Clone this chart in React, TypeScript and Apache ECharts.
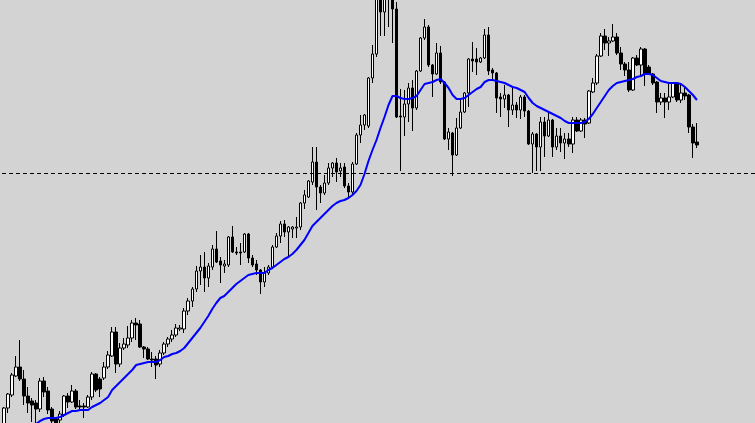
import React, { useEffect, useRef } from "react";
import * as echarts from "echarts";

const opens = [
  -2, 15, 28, 47, 56, 44, 27, 22, 20, 14,
  42, 32, 14, 4, 3, 8, 27, 21, 32, 17,
  17, 16, 26, 49, 44, 45, 56, 67, 91, 59,
  75, 78, 85, 100, 99, 76, 74, 64, 64, 59,
  70, 79, 84, 88, 94, 94, 112, 122, 134, 152,
  156, 145, 156, 174, 162, 157, 158, 186, 171, 171,
  171, 189, 165, 159, 153, 141, 150, 156, 176, 187,
  199, 191, 194, 195, 196, 220, 226, 241, 261, 236,
  230, 240, 255, 260, 252, 256, 237, 231, 259, 288,
  298, 297, 345, 369, 428, 411, 443, 433, 414, 307,
  306, 319, 335, 315, 352, 385, 396, 358, 349, 370,
  341, 284, 290, 268, 295, 311, 330, 364, 364, 361,
  365, 388, 353, 350, 326, 324, 328, 313, 318, 313,
  326, 312, 279, 289, 276, 301, 287, 303, 276, 287,
  280, 284, 279, 303, 292, 303, 300, 331, 340, 367,
  387, 380, 382, 386, 370, 359, 353, 333, 365, 358,
  374, 356, 349, 341, 321, 325, 321, 326, 340, 323,
  330, 328, 296, 281,
];

const closes = [
  15, 29, 48, 56, 44, 27, 20, 18, 14, 42,
  31, 13, 2, -1, 9, 27, 21, 32, 16, 16,
  16, 26, 49, 33, 34, 56, 68, 91, 59, 75,
  79, 85, 100, 98, 76, 74, 64, 63, 58, 70,
  79, 84, 88, 95, 95, 112, 122, 134, 152, 156,
  145, 157, 174, 161, 158, 159, 186, 171, 170, 170,
  189, 165, 158, 153, 141, 150, 156, 176, 187, 199,
  191, 196, 196, 196, 220, 228, 242, 261, 236, 230,
  240, 255, 260, 251, 255, 237, 231, 259, 288, 298,
  308, 345, 369, 428, 411, 431, 428, 414, 306, 306,
  319, 335, 315, 352, 385, 396, 358, 349, 370, 341,
  284, 291, 268, 295, 311, 330, 364, 362, 361, 365,
  388, 352, 350, 325, 324, 328, 313, 318, 313, 326,
  312, 279, 289, 276, 301, 287, 303, 276, 287, 280,
  284, 279, 303, 292, 303, 299, 332, 340, 367, 387,
  380, 382, 386, 370, 359, 353, 333, 365, 358, 374,
  349, 349, 340, 321, 325, 321, 326, 340, 323, 330,
  327, 296, 280, 278,
];

const lows = [
  -5, 10, 26, 46, 42, 18, 10, 1, -1, 11,
  26, 9, -1, -5, -2, 6, 15, 20, 14, 14,
  5, 15, 23, 31, 26, 43, 54, 66, 50, 56,
  73, 75, 81, 83, 75, 65, 63, 56, 44, 56,
  68, 76, 81, 86, 92, 90, 108, 116, 131, 138,
  131, 136, 153, 160, 140, 150, 156, 170, 168, 158,
  170, 160, 156, 148, 129, 136, 148, 155, 175, 180,
  186, 165, 185, 185, 193, 214, 225, 238, 213, 220,
  228, 238, 246, 241, 246, 235, 225, 229, 258, 280,
  293, 295, 340, 366, 387, 387, 396, 380, 305, 252,
  287, 301, 292, 313, 351, 383, 356, 326, 348, 339,
  283, 273, 247, 267, 294, 310, 316, 351, 348, 360,
  364, 348, 343, 310, 306, 315, 296, 308, 305, 304,
  306, 278, 250, 252, 252, 266, 286, 266, 273, 271,
  264, 276, 270, 291, 291, 285, 299, 330, 338, 366,
  373, 367, 381, 368, 353, 347, 331, 332, 357, 347,
  337, 348, 338, 310, 318, 305, 313, 325, 321, 320,
  323, 290, 265, 275,
];

const highs = [
  16, 30, 50, 67, 83, 53, 36, 25, 23, 45,
  46, 36, 16, 6, 12, 28, 30, 38, 34, 23,
  20, 28, 51, 50, 46, 61, 72, 96, 96, 80,
  85, 97, 103, 105, 103, 77, 76, 71, 67, 73,
  81, 86, 93, 99, 98, 115, 125, 136, 157, 168,
  171, 160, 178, 192, 166, 163, 187, 197, 176, 180,
  190, 190, 168, 163, 154, 156, 158, 178, 190, 202,
  203, 197, 197, 206, 221, 233, 243, 276, 276, 238,
  248, 260, 261, 265, 260, 260, 240, 261, 290, 308,
  309, 346, 378, 438, 438, 438, 453, 443, 421, 334,
  333, 340, 343, 353, 386, 404, 398, 359, 380, 377,
  342, 295, 291, 305, 323, 331, 365, 381, 375, 366,
  394, 396, 355, 351, 330, 338, 329, 335, 321, 328,
  328, 313, 291, 290, 306, 306, 310, 304, 295, 295,
  290, 290, 306, 306, 305, 305, 333, 345, 369, 390,
  394, 386, 399, 390, 376, 361, 361, 366, 368, 376,
  375, 358, 350, 342, 330, 330, 341, 341, 341, 338,
  336, 329, 299, 300,
];

const movingAverage = [
  -21, -18, -15, -12, -9, -7, -5, -3, -1, 2,
  4, 5, 5, 5, 6, 8, 10, 12, 12, 13,
  13, 13, 16, 18, 20, 23, 26, 33, 37, 41,
  45, 49, 53, 58, 59, 60, 61, 61, 61, 63,
  66, 67, 69, 70, 72, 75, 80, 85, 90, 95,
  101, 107, 114, 120, 125, 127, 131, 135, 139, 142,
  145, 148, 149, 150, 150, 150, 153, 155, 158, 161,
  164, 166, 169, 173, 178, 183, 190, 197, 201, 205,
  209, 213, 217, 220, 222, 223, 225, 228, 232, 238,
  249, 262, 273, 283, 295, 306, 318, 327, 327, 325,
  324, 324, 325, 327, 333, 339, 340, 341, 343, 344,
  340, 335, 328, 324, 324, 325, 328, 331, 334, 336,
  341, 343, 343, 342, 341, 340, 338, 336, 335, 333,
  331, 325, 320, 317, 315, 313, 311, 309, 307, 305,
  302, 300, 300, 300, 300, 301, 304, 309, 315, 321,
  327, 333, 337, 340, 341, 342, 343, 344, 346, 347,
  349, 349, 348, 345, 342, 341, 340, 340, 340, 339,
  336, 332, 328, 323,
];

const TOTAL_SLOTS = 188;
const slotLabels = Array.from({ length: TOTAL_SLOTS }, (_, i) => `Bar ${i + 1}`);
const levelLine = 250;
const priceMin = 0;
const priceMax = 423;

export default function App() {
  const ref = useRef<HTMLDivElement>(null);
  useEffect(() => {
    if (!ref.current) return;
    const chart = echarts.init(ref.current, null, { renderer: "svg" });
    const candles = opens.map((o, i) => [o, closes[i], lows[i], highs[i]]);
    chart.setOption({
      animation: false,
      backgroundColor: "#d3d3d3",
      grid: { left: 2, right: 0, top: 0, bottom: 0 },
      xAxis: { type: "category", data: slotLabels, show: false, boundaryGap: true },
      yAxis: {
        type: "value",
        min: priceMin,
        max: priceMax,
        show: false,
        splitLine: { show: false },
      },
      series: [
        {
          type: "candlestick",
          data: candles,
          barWidth: 3,
          clip: true,
          itemStyle: {
            color: "#ffffff",
            color0: "#000000",
            borderColor: "#000000",
            borderColor0: "#000000",
            borderWidth: 1,
          },
          markLine: {
            silent: true,
            symbol: ["none", "none"],
            label: { show: false },
            lineStyle: { color: "#000000", type: [4, 3], width: 1 },
            data: [{ yAxis: levelLine }],
          },
        },
        {
          type: "line",
          data: movingAverage,
          symbol: "none",
          clip: true,
          z: 3,
          lineStyle: { color: "#0000ff", width: 2 },
          itemStyle: { color: "#0000ff" },
        },
      ],
    });
    return () => chart.dispose();
  }, []);
  return (
    <div
      ref={ref}
      style={{ position: "fixed", left: 0, top: 0, width: 755, height: 423 }}
    />
  );
}
